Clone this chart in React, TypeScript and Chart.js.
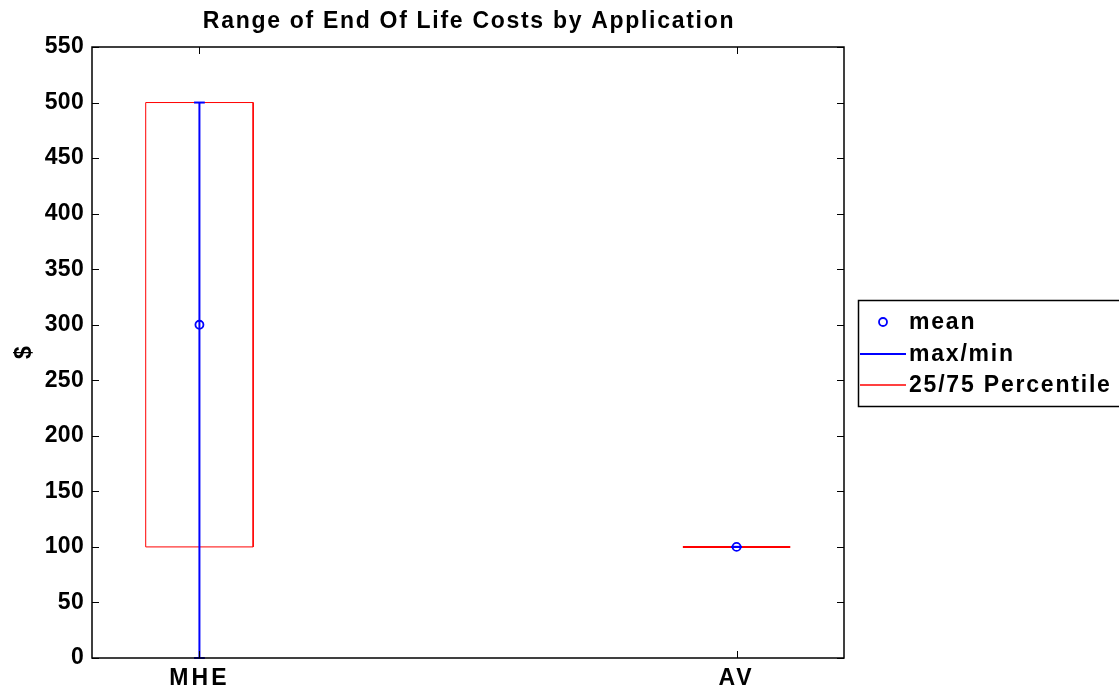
import React, { useEffect, useRef } from 'react';
import { Chart, registerables } from 'chart.js';

Chart.register(...registerables);

// ---- data ----
const categories = ['MHE', 'AV'];
const positions = [1, 2];
const minValues = [0, 100];
const maxValues = [500, 100];
const q25Values = [100, 100];
const q75Values = [500, 100];
const meanValues = [300, 100];
const legendLabels = ['mean', 'max/min', '25/75 Percentile'];
const chartTitle = 'Range of End Of Life Costs by Application';
const yAxisTitle = '$';
const yMin = 0;
const yMax = 550;
const yStep = 50;
const xMin = 0.8;
const xMax = 2.2;

// ---- style ----
const BLUE = '#0000ff';
const RED = '#ff0000';
const FAMILY = "'Liberation Sans', Arial, Helvetica, sans-serif";
const FS = 23;
const BOX_HALF = 0.1;
const CAP_HALF = 0.01;
const W = 1119;
const H = 695;

function buildDatasets(): any[] {
  const means: any[] = [];
  const whiskers: any[] = [];
  const boxes: any[] = [];
  positions.forEach((x, i) => {
    means.push({ x, y: meanValues[i] });
    whiskers.push({
      data: [
        { x, y: minValues[i] },
        { x, y: maxValues[i] },
      ],
      borderColor: BLUE,
      borderWidth: 2,
    });
    whiskers.push({
      data: [
        { x: x - CAP_HALF, y: maxValues[i] },
        { x: x + CAP_HALF, y: maxValues[i] },
      ],
      borderColor: BLUE,
      borderWidth: 2,
    });
    whiskers.push({
      data: [
        { x: x - CAP_HALF, y: minValues[i] },
        { x: x + CAP_HALF, y: minValues[i] },
      ],
      borderColor: BLUE,
      borderWidth: 2,
    });
    boxes.push({
      data: [
        { x: x - BOX_HALF, y: q25Values[i] },
        { x: x - BOX_HALF, y: q75Values[i] },
        { x: x + BOX_HALF, y: q75Values[i] },
        { x: x + BOX_HALF, y: q25Values[i] },
        { x: x - BOX_HALF, y: q25Values[i] },
      ],
      borderColor: RED,
      borderWidth: i === 0 ? 1 : 2,
    });
  });
  const lineDefaults = {
    showLine: true,
    pointRadius: 0,
    pointHoverRadius: 0,
    fill: false,
    tension: 0,
    clip: false as any,
  };
  return [
    {
      label: 'mean',
      data: means,
      showLine: false,
      pointStyle: 'circle',
      pointRadius: 4,
      pointBorderWidth: 1.8,
      pointBorderColor: BLUE,
      pointBackgroundColor: 'rgba(0,0,0,0)',
      clip: false as any,
    },
    ...whiskers.map((d) => ({ ...lineDefaults, ...d })),
    ...boxes.map((d) => ({ ...lineDefaults, ...d })),
  ];
}

const framePlugin = {
  id: 'matlabFrame',
  beforeDraw(chart: any) {
    (chart.ctx as any).letterSpacing = '0.3px';
  },
  afterLayout(chart: any) {
    const xs = chart.scales.x;
    if (xs && !xs.__patched) {
      const orig = xs.drawLabels.bind(xs);
      xs.drawLabels = (area: any) => {
        const c: any = chart.ctx;
        const prev = c.letterSpacing;
        c.letterSpacing = '3px';
        orig(area);
        c.letterSpacing = prev;
      };
      xs.__patched = true;
    }
  },
  afterDatasetsDraw(chart: any) {
    const { ctx, chartArea } = chart;
    const { left, right, top, bottom } = chartArea;
    const xs = chart.scales.x;
    const ys = chart.scales.y;
    const TL = 7;
    ctx.save();
    ctx.strokeStyle = '#000';
    ctx.lineWidth = 1.5;
    ctx.strokeRect(left, top, right - left, bottom - top);
    ctx.lineWidth = 1;
    ctx.beginPath();
    ys.ticks.forEach((t: any) => {
      const y = Math.round(ys.getPixelForValue(t.value)) + 0.5;
      ctx.moveTo(left, y);
      ctx.lineTo(left + TL, y);
      ctx.moveTo(right, y);
      ctx.lineTo(right - TL, y);
    });
    xs.ticks.forEach((t: any) => {
      const x = Math.round(xs.getPixelForValue(t.value)) + 0.5;
      ctx.moveTo(x, bottom);
      ctx.lineTo(x, bottom - TL);
      ctx.moveTo(x, top);
      ctx.lineTo(x, top + TL);
    });
    ctx.stroke();
    ctx.restore();
  },
  afterDraw(chart: any) {
    const { ctx, chartArea } = chart;
    const c: any = ctx;
    ctx.save();
    // title
    c.letterSpacing = '1.7px';
    ctx.font = `bold ${FS}px ${FAMILY}`;
    ctx.fillStyle = '#000';
    ctx.textAlign = 'center';
    ctx.textBaseline = 'alphabetic';
    ctx.fillText(chartTitle, (chartArea.left + chartArea.right) / 2 + 1, 28);

    // legend
    const bx = 858.5;
    const by = 300.5;
    const bh = 106;
    ctx.fillStyle = '#fff';
    ctx.fillRect(bx, by, 300, bh);
    ctx.strokeStyle = '#000';
    ctx.lineWidth = 1.5;
    ctx.strokeRect(bx, by, 300, bh);
    const rows = [322, 354, 385];
    c.letterSpacing = '1.8px';
    ctx.textAlign = 'left';
    ctx.textBaseline = 'middle';
    legendLabels.forEach((lab, i) => {
      const y = rows[i];
      if (i === 0) {
        ctx.beginPath();
        ctx.strokeStyle = BLUE;
        ctx.lineWidth = 1.8;
        ctx.arc(883, y, 4, 0, Math.PI * 2);
        ctx.stroke();
      } else {
        ctx.beginPath();
        ctx.strokeStyle = i === 1 ? BLUE : RED;
        ctx.lineWidth = i === 1 ? 2 : 1.5;
        ctx.moveTo(860, y);
        ctx.lineTo(906, y);
        ctx.stroke();
      }
      ctx.fillStyle = '#000';
      ctx.font = `bold ${FS}px ${FAMILY}`;
      ctx.fillText(lab, 909, y + 1);
    });
    ctx.restore();
  },
};

export default function App() {
  const ref = useRef<HTMLCanvasElement | null>(null);
  useEffect(() => {
    document.body.style.margin = '0';
    const canvas = ref.current;
    if (!canvas) return;
    const chart = new Chart(canvas, {
      type: 'scatter',
      data: { datasets: buildDatasets() as any },
      options: {
        responsive: false,
        animation: false,
        devicePixelRatio: 1,
        events: [],
        layout: { padding: { top: 47, right: W - 844, left: 0, bottom: 0 } },
        plugins: {
          legend: { display: false },
          tooltip: { enabled: false },
          title: { display: false },
        },
        scales: {
          x: {
            type: 'linear',
            min: xMin,
            max: xMax,
            grid: { display: false, drawTicks: false },
            border: { display: false },
            afterBuildTicks: (s: any) => {
              s.ticks = positions.map((v) => ({ value: v }));
            },
            afterFit: (s: any) => {
              s.height = H - 658;
            },
            ticks: {
              autoSkip: false,
              maxRotation: 0,
              padding: 7,
              color: '#000',
              font: { family: FAMILY, size: FS, weight: 'bold' },
              callback: (v: any) => {
                const idx = positions.indexOf(Number(v));
                return idx >= 0 ? categories[idx] : '';
              },
            },
          },
          y: {
            type: 'linear',
            min: yMin,
            max: yMax,
            grid: { display: false, drawTicks: false },
            border: { display: false },
            afterFit: (s: any) => {
              s.width = 92;
            },
            title: {
              display: true,
              text: yAxisTitle,
              color: '#000',
              font: { family: FAMILY, size: FS, weight: 'bold' },
              padding: { top: 11, bottom: 0 },
            },
            ticks: {
              stepSize: yStep,
              padding: 8,
              color: '#000',
              font: { family: FAMILY, size: FS, weight: 'bold' },
            },
          },
        },
      } as any,
      plugins: [framePlugin],
    });
    return () => chart.destroy();
  }, []);
  return (
    <div style={{ position: 'absolute', left: 0, top: 0, width: W, height: H, background: '#fff' }}>
      <canvas ref={ref} width={W} height={H} style={{ display: 'block', width: W, height: H }} />
    </div>
  );
}
